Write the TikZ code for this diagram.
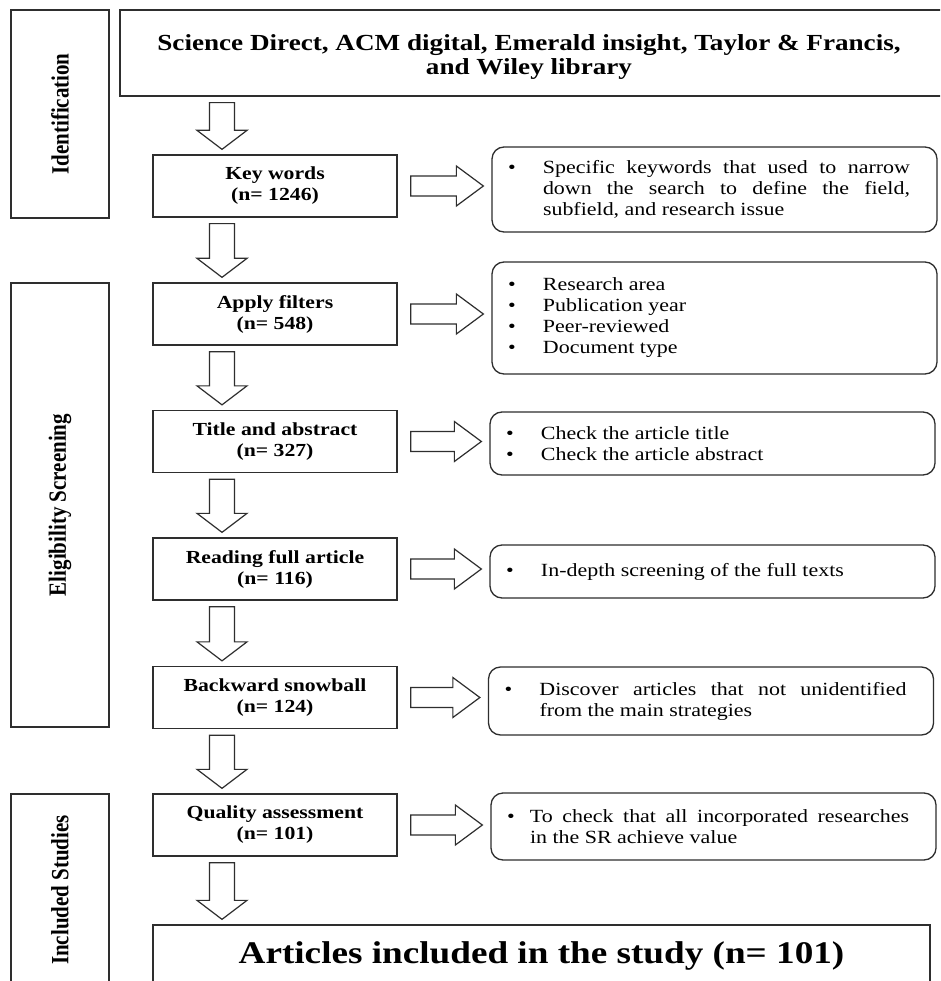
\documentclass[tikz,border=0pt]{standalone}
\usepackage{fontspec}
\usepackage{graphicx}
\setmainfont{Liberation Serif}
\newfontfamily\widefam[FakeStretch=1.18]{Liberation Serif}
\usetikzlibrary{calc}

\newcommand\bitem[2]{\par\hangindent=#1\relax\hangafter=1\relax\noindent\makebox[#1][l]{\textbullet}#2\par}
\newcommand\infotext[1]{\parbox{402pt}{\widefam\fontsize{18.6}{21}\selectfont #1}\hspace*{11pt}}
\newcommand\sidelabel[1]{\rotatebox{90}{\scalebox{1}[1.18]{\bfseries\fontsize{21}{24}\selectfont #1}}}
\newcommand\downblk[3]{%
  \draw[blockarrow] let \p1=(#1.south), \p2=(#2.north), \p3=(#3) in
    (\x3-12.5pt,\y1-6pt) -- (\x3+12.5pt,\y1-6pt) -- (\x3+12.5pt,\y2+24pt)
    -- (\x3+25pt,\y2+24pt) -- (\x3,\y2+5pt) -- (\x3-25pt,\y2+24pt)
    -- (\x3-12.5pt,\y2+24pt) -- cycle;}
\newcommand\rightblk[2]{%
  \draw[blockarrow] let \p1=(#1.east), \p2=(#2.west) in
    (\x1+13pt,\y1+10pt) -- (\x2-35pt,\y1+10pt) -- (\x2-35pt,\y1+20pt)
    -- (\x2-8pt,\y1) -- (\x2-35pt,\y1-20pt) -- (\x2-35pt,\y1-10pt)
    -- (\x1+13pt,\y1-10pt) -- cycle;}

\tikzset{
  outline/.style={draw=black!82, line width=1.3pt},
  stepbox/.style={outline, rectangle, minimum width=244pt, minimum height=62pt,
    inner sep=0pt, align=center, font=\widefam\bfseries\fontsize{18.4}{21}\selectfont},
  sidebox/.style={outline, rectangle, minimum width=98pt, inner sep=0pt},
  infobox/.style={outline, rectangle, rounded corners=12pt, inner sep=0pt, minimum width=445pt},
  blockarrow/.style={outline, line width=1.2pt, fill=white, line join=miter},
}

\begin{document}
\begin{tikzpicture}[x=1pt,y=-1pt]
\useasboundingbox (0,0) rectangle (940,981);
\fill[white] (0,0) rectangle (940,981);
\clip (0,0) rectangle (940,981);

% phase labels
\node[sidebox, minimum height=208pt] (ident) at (60,114) {\sidelabel{Identification}};
\node[sidebox, minimum height=444pt] (elig) at (60,505) {\sidelabel{Eligibility Screening}};
\node[sidebox, minimum height=192pt] (incl) at (60,890) {\sidelabel{Included Studies}};

% sources
\node[outline, rectangle, minimum width=822pt, minimum height=86pt, inner sep=0pt] (src) at (531,53) {};
\node[align=center, inner sep=0pt, font=\widefam\bfseries\fontsize{23}{24.5}\selectfont] (srctext)
  at (529,57) {Science Direct, ACM digital, Emerald insight, Taylor \& Francis,\\and Wiley library};

% steps
\node[stepbox] (kw) at (275,186) {Key words\\(n= 1246)};
\node[stepbox] (af) at (275,314) {Apply filters\\(n= 548)};
\node[stepbox] (ta) at (275,441.5) {Title and abstract\\(n= 327)};
\node[stepbox] (rf) at (275,569) {Reading full article\\(n= 116)};
\node[stepbox] (bs) at (275,697.5) {Backward snowball\\(n= 124)};
\node[stepbox] (qa) at (275,825) {Quality assessment\\(n= 101)};
\node[outline, rectangle, minimum width=777pt, minimum height=62pt, inner sep=0pt,
  font=\widefam\bfseries\fontsize{31.5}{36}\selectfont] (fin) at (541.5,956)
  {Articles included in the study (n= 101)};

% notes
\node[infobox, minimum height=85pt] (rb1) at (714.5,189.5) {\infotext{\bitem{35pt}{Specific keywords that used to narrow\linebreak down the search to define the field,\linebreak subfield, and research issue}}};
\node[infobox, minimum height=112pt] (rb2) at (714.5,318) {\infotext{\bitem{35pt}{Research area}\bitem{35pt}{Publication year}\bitem{35pt}{Peer-reviewed}\bitem{35pt}{Document type}}};
\node[infobox, minimum height=63pt] (rb3) at (712.5,443.5) {\infotext{\bitem{35pt}{Check the article title}\bitem{35pt}{Check the article abstract}}};
\node[infobox, minimum height=53pt] (rb4) at (712.5,571.5) {\infotext{\bitem{35pt}{In-depth screening of the full texts}}};
\node[infobox, minimum height=68pt] (rb5) at (711,701) {\infotext{\bitem{35pt}{Discover articles that not unidentified\linebreak from the main strategies}}};
\node[infobox, minimum height=67pt] (rb6) at (713.5,826.5) {\infotext{\bitem{23pt}{To check that all incorporated researches\linebreak in the SR achieve value}}};

% block arrows
\coordinate (ax) at (222,0);
\downblk{src}{kw}{ax}
\downblk{kw}{af}{ax}
\downblk{af}{ta}{ax}
\downblk{ta}{rf}{ax}
\downblk{rf}{bs}{ax}
\downblk{bs}{qa}{ax}
\downblk{qa}{fin}{ax}
\rightblk{kw}{rb1}
\rightblk{af}{rb2}
\rightblk{ta}{rb3}
\rightblk{rf}{rb4}
\rightblk{bs}{rb5}
\rightblk{qa}{rb6}
\end{tikzpicture}
\end{document}
